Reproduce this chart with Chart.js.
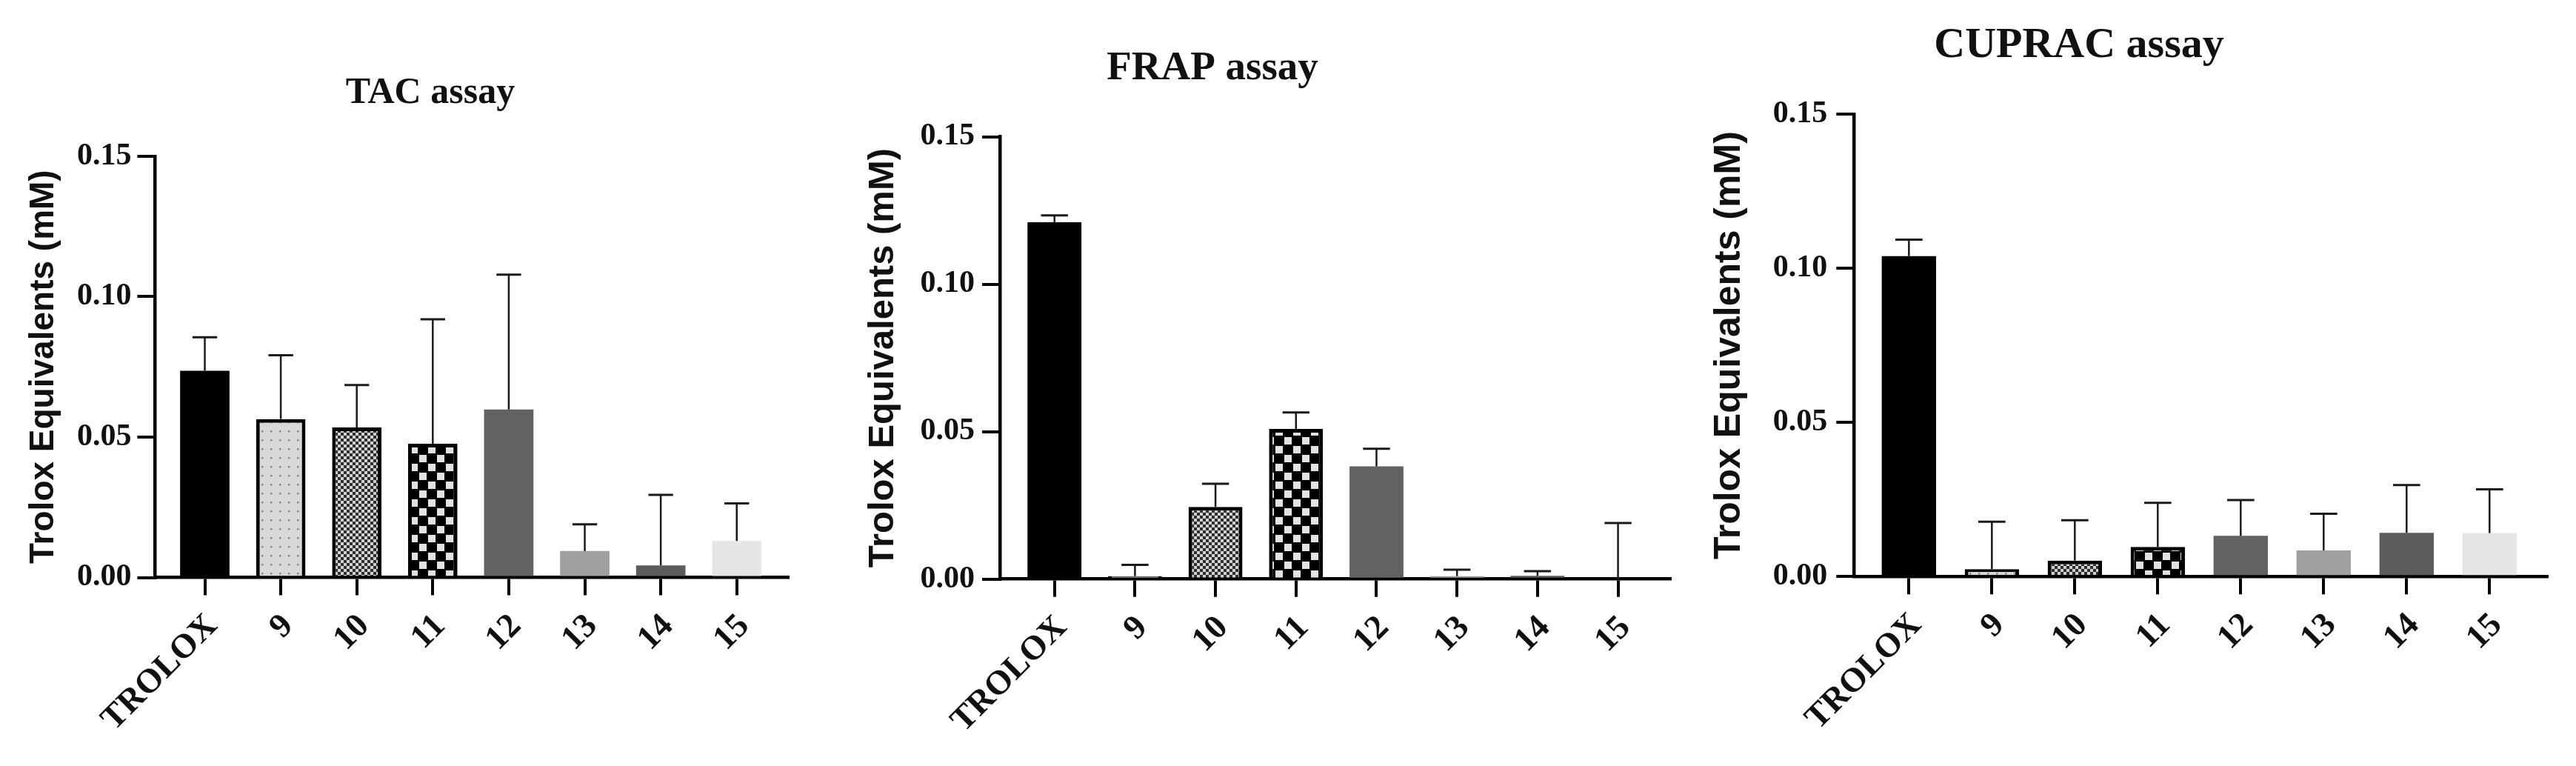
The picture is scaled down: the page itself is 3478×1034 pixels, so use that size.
<!DOCTYPE html>
<html>
<head>
<meta charset="utf-8">
<title>TAC / FRAP / CUPRAC assays</title>
<script src="https://cdn.jsdelivr.net/npm/chart.js@4.4.0/dist/chart.umd.min.js"></script>
<style>
  html, body { margin: 0; padding: 0; background: #fff; }
  #wrap { position: relative; width: 3478px; height: 1034px; overflow: hidden; }
  canvas { position: absolute; top: 0; }
</style>
</head>
<body>
<div id="wrap">
  <canvas id="tac" width="1100" height="1034" style="left:0px"></canvas>
  <canvas id="frap" width="1290" height="1034" style="left:1000px"></canvas>
  <canvas id="cuprac" width="1328" height="1034" style="left:2150px"></canvas>
</div>
<script>
// data (mean and upper SD, mM Trolox equivalents)
const categories = ['TROLOX', '9', '10', '11', '12', '13', '14', '15'];
const yTicks = [0, 0.05, 0.10, 0.15];

const tacMeans = [0.0736, 0.0564, 0.0534, 0.0476, 0.0598, 0.0094, 0.0043, 0.0130];
const tacSD    = [0.0119, 0.0227, 0.0151, 0.0443, 0.0480, 0.0095, 0.0251, 0.0134];

const frapMeans = [0.1210, 0.0010, 0.0245, 0.0509, 0.0382, 0.0010, 0.0011, 0.0000];
const frapSD    = [0.0023, 0.0038, 0.0078, 0.0056, 0.0060, 0.0022, 0.0016, 0.0190];

const cupracMeans = [0.1039, 0.0024, 0.0052, 0.0096, 0.0132, 0.0085, 0.0142, 0.0141];
const cupracSD    = [0.0054, 0.0154, 0.0131, 0.0143, 0.0116, 0.0119, 0.0155, 0.0142];

const serif = '"Liberation Serif", "Times New Roman", serif';
const sans = '"Liberation Sans", Arial, sans-serif';

function makePattern(size, draw) {
  const c = document.createElement('canvas');
  c.width = size;
  c.height = size;
  const g = c.getContext('2d');
  draw(g, size);
  return g.createPattern(c, 'repeat');
}

const dots = makePattern(12, (g, s) => {
  g.fillStyle = '#d8d8d8'; g.fillRect(0, 0, s, s);
  g.fillStyle = '#8a8a8a'; g.fillRect(5, 5, 2.5, 2.5);
});
const fineCheck = makePattern(8, (g, s) => {
  g.fillStyle = '#2e2e2e'; g.fillRect(0, 0, s, s);
  g.fillStyle = '#cfcfcf'; g.fillRect(0, 0, 4, 4); g.fillRect(4, 4, 4, 4);
});
const bigCheck = makePattern(24, (g, s) => {
  g.fillStyle = '#000'; g.fillRect(0, 0, s, s);
  g.fillStyle = '#e2e2e2'; g.fillRect(2, 2, 10, 10); g.fillRect(14, 14, 10, 10);
});

const barFills = ['#000000', dots, fineCheck, bigCheck, '#626262', '#a0a0a0', '#5c5c5c', '#e6e6e6'];
const barBorders = [0, 5, 5, 5, 0, 0, 0, 0];

// upper-only error bars with a cap half the bar width
const errorBars = {
  id: 'errorBars',
  afterDatasetsDraw(chart, args, opts) {
    const ctx = chart.ctx;
    const y = chart.scales.y;
    const points = chart.data.datasets[0].data;
    ctx.save();
    ctx.strokeStyle = '#1a1a1a';
    chart.getDatasetMeta(0).data.forEach((bar, i) => {
      const top = y.getPixelForValue(points[i].y + opts.sd[i]);
      const half = bar.width / 4;
      ctx.lineWidth = 2.5;
      ctx.beginPath();
      ctx.moveTo(bar.x, bar.y);
      ctx.lineTo(bar.x, top);
      ctx.stroke();
      ctx.lineWidth = 3;
      ctx.beginPath();
      ctx.moveTo(bar.x - half, top);
      ctx.lineTo(bar.x + half, top);
      ctx.stroke();
    });
    ctx.restore();
  }
};

function drawPanel(id, cfg) {
  new Chart(document.getElementById(id), {
    type: 'bar',
    data: {
      datasets: [{
        data: cfg.means.map((v, i) => ({ x: i, y: v })),
        backgroundColor: barFills,
        borderColor: '#000',
        borderWidth: barBorders,
        barPercentage: cfg.barPct,
        categoryPercentage: 1
      }]
    },
    options: {
      responsive: false,
      animation: false,
      devicePixelRatio: 1,
      layout: { padding: { left: cfg.padLeft, right: cfg.padRight, top: 0, bottom: 0 } },
      plugins: {
        legend: { display: false },
        tooltip: { enabled: false },
        title: {
          display: true,
          text: cfg.title,
          color: '#111',
          font: { family: serif, weight: 'bold', size: cfg.titleSize },
          padding: { top: cfg.titleTop, bottom: cfg.titleBottom }
        },
        errorBars: { sd: cfg.sd }
      },
      scales: {
        x: {
          type: 'linear',
          offset: false,
          min: cfg.xMin,
          max: cfg.xMax,
          z: 1,
          afterBuildTicks: (s) => { s.ticks = categories.map((c, i) => ({ value: i })); },
          afterFit: (s) => { s.height = cfg.xHeight; },
          grid: { offset: false, drawOnChartArea: false, tickLength: 24, lineWidth: 4, color: '#000' },
          border: { color: '#000', width: 4.5 },
          ticks: {
            autoSkip: false,
            minRotation: 45,
            maxRotation: 45,
            padding: 15,
            labelOffset: 10,
            color: '#111',
            font: { family: serif, weight: 'bold', size: 46 },
            callback: (v) => categories[v]
          }
        },
        y: {
          min: 0,
          max: 0.15,
          z: 1,
          afterBuildTicks: (s) => { s.ticks = yTicks.map((v) => ({ value: v })); },
          afterFit: (s) => { s.width = cfg.yWidth; },
          grid: { drawOnChartArea: false, tickLength: 24, lineWidth: 4, color: '#000' },
          border: { color: '#000', width: 4.5 },
          ticks: {
            padding: cfg.yPad,
            color: '#111',
            font: { family: serif, weight: 'bold', size: 42 },
            callback: (v) => v.toFixed(2)
          },
          title: {
            display: true,
            text: 'Trolox Equivalents (mM)',
            color: '#111',
            font: { family: sans, weight: 'bold', size: cfg.yTitleSize },
            padding: { top: cfg.yTitleOffset, bottom: 0 }
          }
        }
      }
    },
    plugins: [errorBars]
  });
}

drawPanel('tac', {
  title: 'TAC assay', means: tacMeans, sd: tacSD,
  padLeft: 98, padRight: 36, titleSize: 50, titleTop: 95.6, titleBottom: 55.2,
  xMin: -0.654, xMax: 7.675, xHeight: 254.5, barPct: 0.65,
  yWidth: 111.4, yPad: 8, yTitleSize: 46, yTitleOffset: -66.6
});

drawPanel('frap', {
  title: 'FRAP assay', means: frapMeans, sd: frapSD,
  padLeft: 19, padRight: 35, titleSize: 55, titleTop: 59.3, titleBottom: 59.2,
  xMin: -0.678, xMax: 7.648, xHeight: 252.3, barPct: 0.67,
  yWidth: 331, yPad: 10, yTitleSize: 49, yTitleOffset: 143.6
});

drawPanel('cuprac', {
  title: 'CUPRAC assay', means: cupracMeans, sd: cupracSD,
  padLeft: 25, padRight: 39, titleSize: 58, titleTop: 27.2, titleBottom: 57.2,
  xMin: -0.661, xMax: 7.694, xHeight: 255.7, barPct: 0.655,
  yWidth: 328.3, yPad: 12, yTitleSize: 50, yTitleOffset: 130.5
});
</script>
</body>
</html>
